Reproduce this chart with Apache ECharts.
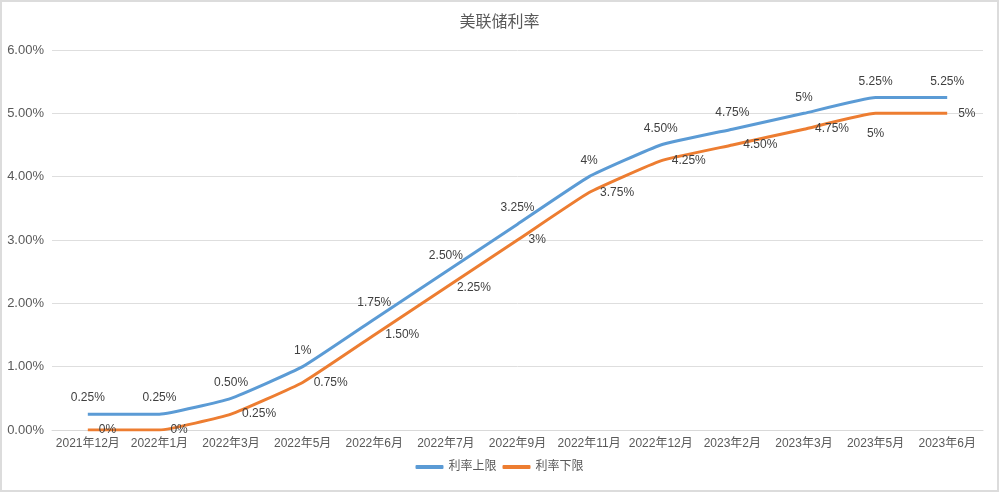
<!DOCTYPE html>
<html>
<head>
<meta charset="utf-8">
<title>美联储利率</title>
<script src="https://cdn.jsdelivr.net/npm/echarts@6/dist/echarts.min.js"></script>
<style>
  html, body { margin: 0; padding: 0; background: #fff; }
  #chart {
    width: 995px; height: 488px;
    border: 2px solid #dcdcdc;
  }
</style>
</head>
<body>
<div id="chart"></div>
<script>
// 数据
const months = ['2021年12月', '2022年1月', '2022年3月', '2022年5月', '2022年6月', '2022年7月',
    '2022年9月', '2022年11月', '2022年12月', '2023年2月', '2023年3月', '2023年5月', '2023年6月']
const upperRate = [0.25, 0.25, 0.5, 1, 1.75, 2.5, 3.25, 4, 4.5, 4.75, 5, 5.25, 5.25]
const lowerRate = [0, 0, 0.25, 0.75, 1.5, 2.25, 3, 3.75, 4.25, 4.5, 4.75, 5, 5]
const yTicks = [0, 1, 2, 3, 4, 5, 6]

// 百分比显示: 整数 -> 1%, 其他 -> 0.25%
const pct = v => (Number.isInteger(v) ? v + '%' : v.toFixed(2) + '%')

const textColor = '#595959'
const fontFamily = '"Liberation Sans", "Noto Sans CJK SC", sans-serif'

const chart = echarts.init(document.getElementById('chart'))

const lowerData = lowerRate.map((v, i) => {
    // 2023年5月 那个点标签在下方
    if (i === 11) {
        return { value: v, label: { position: 'bottom', distance: 14 } }
    }
    return v
})

const option = {
    textStyle: { fontFamily },
    title: {
        text: '美联储利率',
        left: 'center',
        top: 8,
        textStyle: { fontSize: 16, fontWeight: 'normal', color: textColor, fontFamily }
    },
    legend: {
        bottom: 12,
        left: 'center',
        itemWidth: 28,
        itemHeight: 4,
        itemGap: 6,
        icon: 'roundRect',
        textStyle: { fontSize: 12, color: textColor },
        data: ['利率上限', '利率下限']
    },
    grid: { left: 50, right: 14, top: 48, bottom: 60 },
    xAxis: {
        type: 'category',
        data: months,
        boundaryGap: true,
        axisLine: { lineStyle: { color: '#d9d9d9', width: 1 } },
        axisTick: { show: false },
        axisLabel: { color: textColor, fontSize: 12, interval: 0, margin: 8 }
    },
    yAxis: {
        type: 'value',
        min: yTicks[0],
        max: yTicks[yTicks.length - 1],
        interval: 1,
        axisLine: { show: false },
        axisTick: { show: false },
        axisLabel: {
            color: textColor, fontSize: 13, margin: 8,
            formatter: v => v.toFixed(2) + '%'
        },
        splitLine: { lineStyle: { color: '#dedede', width: 1 } }
    },
    series: [
        {
            name: '利率上限',
            type: 'line',
            data: upperRate,
            smooth: 0.12,
            symbol: 'circle',
            symbolSize: 0,
            lineStyle: { width: 3, color: '#5b9bd5' },
            itemStyle: { color: '#5b9bd5' },
            label: {
                show: true,
                position: 'top',
                distance: 10,
                color: '#404040',
                fontSize: 12,
                formatter: p => pct(p.value)
            }
        },
        {
            name: '利率下限',
            type: 'line',
            data: lowerData,
            smooth: 0.12,
            symbol: 'circle',
            symbolSize: 0,
            lineStyle: { width: 3, color: '#ed7d31' },
            itemStyle: { color: '#ed7d31' },
            label: {
                show: true,
                position: 'right',
                distance: 11,
                color: '#404040',
                fontSize: 12,
                formatter: p => pct(p.value)
            }
        }
    ]
}

chart.setOption(option)
</script>
</body>
</html>
